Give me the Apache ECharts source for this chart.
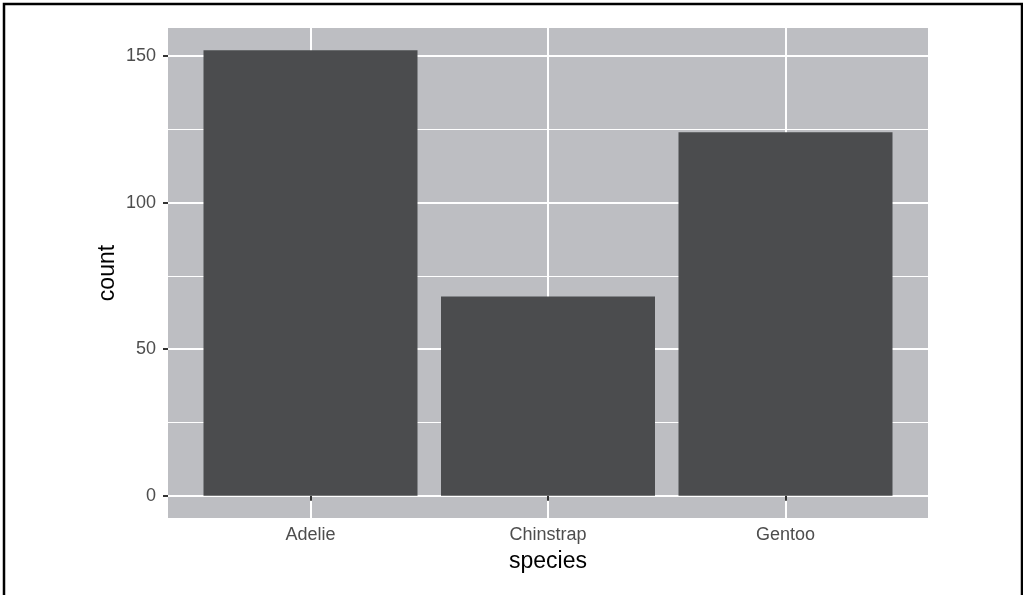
<!DOCTYPE html>
<html>
<head>
<meta charset="utf-8">
<script src="https://cdn.jsdelivr.net/npm/echarts@6/dist/echarts.min.js"></script>
<style>html,body{margin:0;padding:0;background:#fff;}#c{width:1023px;height:595px;}</style>
</head>
<body>
<div id="c"></div>
<script>
const categories = ['Adelie', 'Chinstrap', 'Gentoo'];
const counts = [152, 68, 124];
const yTicks = [0, 50, 100, 150];
const yMinor = [25, 75, 125];

const positions = categories.map((c, i) => i + 1);
const barData = categories.map((c, i) => [positions[i], counts[i]]);
const maxCount = Math.max(...counts);

const chart = echarts.init(document.getElementById('c'), null, {renderer: 'canvas'});
const font = 'Liberation Sans, Arial, Helvetica, sans-serif';
chart.setOption({
  animation: false,
  backgroundColor: '#ffffff',
  graphic: [{
    type: 'polyline',
    shape: {points: [[4, 640], [4, 4], [1022, 4], [1022, 640]]},
    style: {fill: 'none', stroke: '#000', lineWidth: 2.5},
    z: 100
  }],
  grid: {
    left: 168, right: 95, top: 28, bottom: 77,
    show: true, backgroundColor: '#bdbec2', borderWidth: 0
  },
  xAxis: {
    type: 'value',
    min: 0.4, max: categories.length + 0.6,
    name: 'species', nameLocation: 'middle', nameGap: 32, nameMoveOverlap: false,
    nameTextStyle: {fontFamily: font, fontSize: 23, color: '#000'},
    axisLine: {show: false},
    axisTick: {show: true, customValues: positions, length: 5, lineStyle: {color: '#333', width: 2}},
    axisLabel: {customValues: positions, margin: 8, fontFamily: font, fontSize: 18, color: '#4d4d4d',
      formatter: v => categories[Math.round(v) - 1] || ''},
    splitLine: {show: true, lineStyle: {color: '#ffffff', width: 2}}
  },
  yAxis: {
    type: 'value',
    min: -0.05 * maxCount, max: 1.05 * maxCount,
    name: 'count', nameLocation: 'middle', nameGap: 49, nameRotate: 90, nameMoveOverlap: false,
    nameTextStyle: {fontFamily: font, fontSize: 23, color: '#000'},
    axisLine: {show: false},
    axisTick: {show: true, customValues: yTicks, length: 5, lineStyle: {color: '#333', width: 2}},
    axisLabel: {customValues: yTicks, margin: 12, fontFamily: font, fontSize: 18, color: '#4d4d4d'},
    splitLine: {show: true, lineStyle: {color: '#ffffff', width: 2}}
  },
  series: [{
    type: 'line', data: [], z: 1, silent: true,
    markLine: {
      silent: true, symbol: 'none', z: 1,
      label: {show: false},
      lineStyle: {color: '#ffffff', width: 1, type: 'solid'},
      data: yMinor.map(v => ({yAxis: v}))
    }
  }, {
    type: 'bar', data: barData, barWidth: 214, z: 2,
    itemStyle: {color: '#4b4c4e'}
  }]
});
</script>
</body>
</html>
